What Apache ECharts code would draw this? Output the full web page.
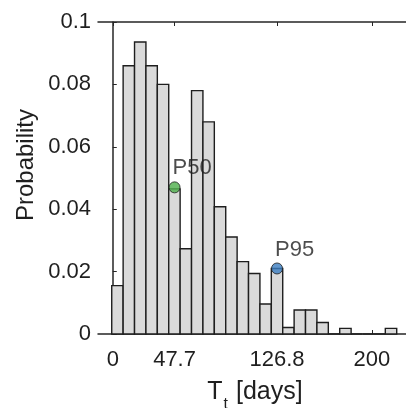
<!DOCTYPE html>
<html>
<head>
<meta charset="utf-8">
<script src="https://cdn.jsdelivr.net/npm/echarts@6/dist/echarts.min.js"></script>
<style>
html,body{margin:0;padding:0;background:#fff;}
#chart{width:406px;height:408px;}
</style>
</head>
<body>
<div id="chart"></div>
<script>
// Histogram bin edges (days)
var binEdges = [-0.8, 8.0, 16.8, 25.6, 34.4, 43.2, 52.0, 60.8, 69.6, 78.4, 87.2, 96.0, 104.8,
  113.6, 122.4, 131.2, 140.0, 148.8, 157.6, 166.4, 175.2, 184.0, 192.8, 201.6, 210.4, 219.2];
// Probability of each bin
var probs = [0.0155, 0.086, 0.0936, 0.086, 0.080, 0.0465, 0.0273, 0.078, 0.068, 0.0408,
  0.0311, 0.0232, 0.0194, 0.0096, 0.021, 0.0021, 0.0077, 0.0077, 0.0037, 0, 0.0018, 0, 0, 0, 0.0018];
// Percentile markers
var pointLabels = ['P50', 'P95'];
var pointX = [47.7, 126.8];
var pointY = [0.047, 0.021];
var pointColors = ['#4cae4a', '#3b7dc0'];
// Tick values
var xTicks = [0, 47.7, 126.8, 200];
var xTickLabels = ['0', '47.7', '126.8', '200'];
var yTicks = [0, 0.02, 0.04, 0.06, 0.08, 0.1];
var yTickLabels = ['0', '0.02', '0.04', '0.06', '0.08', '0.1'];

var TXT = '#1f1f1f';
var FONT = 'Liberation Sans, Arial, sans-serif';

var barData = probs.map(function (p, i) { return [binEdges[i], binEdges[i + 1], p]; });
var pts = pointX.map(function (x, i) {
  return { value: [x, pointY[i]], name: pointLabels[i], itemStyle: { color: pointColors[i] } };
});

var chart = echarts.init(document.getElementById('chart'), null, { renderer: 'canvas' });
var axisLineStyle = { color: '#262626', width: 1.5 };
chart.setOption({
  animation: false,
  backgroundColor: '#fff',
  grid: { left: 98, top: 22, width: 314, height: 312, containLabel: false, outerBoundsMode: 'none' },
  xAxis: [{
    type: 'value', min: -11.4, max: 231, position: 'bottom',
    axisLine: { show: true, onZero: false, lineStyle: axisLineStyle },
    axisTick: { show: true, inside: true, length: 4, lineStyle: { color: '#262626', width: 1 }, customValues: xTicks },
    axisLabel: { show: true, margin: 15, color: TXT, fontSize: 22, fontFamily: FONT,
      customValues: xTicks,
      formatter: function (v) { var i = xTicks.indexOf(v); return i >= 0 ? xTickLabels[i] : ''; } },
    splitLine: { show: false },
    name: '{m|T}{s|t}{m| [days]}',
    nameLocation: 'middle', nameGap: 46, nameMoveOverlap: false,
    nameTextStyle: {
      color: TXT, fontFamily: FONT, fontSize: 24,
      rich: {
        m: { fontSize: 25, color: TXT, fontFamily: FONT, lineHeight: 26, verticalAlign: 'top' },
        s: { fontSize: 16, color: TXT, fontFamily: FONT, lineHeight: 16, verticalAlign: 'top', padding: [17, 1, 0, 1] }
      }
    }
  }, {
    type: 'value', min: -11.4, max: 231, position: 'top',
    axisLine: { show: true, onZero: false, lineStyle: axisLineStyle },
    axisTick: { show: true, inside: true, length: 4, lineStyle: { color: '#262626', width: 1 }, customValues: xTicks },
    axisLabel: { show: false },
    splitLine: { show: false }
  }],
  yAxis: [{
    type: 'value', min: 0, max: 0.1,
    axisLine: { show: true, lineStyle: axisLineStyle },
    axisTick: { show: true, inside: true, length: 4, lineStyle: { color: '#262626', width: 1 }, customValues: yTicks },
    axisLabel: { show: true, margin: 7, color: TXT, fontSize: 22, fontFamily: FONT,
      customValues: yTicks,
      formatter: function (v) {
        for (var i = 0; i < yTicks.length; i++) { if (Math.abs(yTicks[i] - v) < 1e-9) return yTickLabels[i]; }
        return '';
      } },
    splitLine: { show: false },
    name: 'Probability', nameLocation: 'middle', nameGap: 60, nameMoveOverlap: false,
    nameTextStyle: { color: TXT, fontFamily: FONT, fontSize: 24, padding: [0, 0, 0, 26] }
  }],
  series: [{
    type: 'custom',
    xAxisIndex: 0, yAxisIndex: 0,
    encode: { x: [0, 1], y: 2 },
    data: barData,
    renderItem: function (params, api) {
      var p0 = api.coord([api.value(0), 0]);
      var p1 = api.coord([api.value(1), api.value(2)]);
      return {
        type: 'rect',
        shape: { x: p0[0], y: p1[1], width: p1[0] - p0[0], height: p0[1] - p1[1] },
        style: { fill: '#dadada', stroke: '#1e1e1e', lineWidth: 1.4 }
      };
    },
    z: 2
  }, {
    type: 'scatter',
    xAxisIndex: 0, yAxisIndex: 0,
    symbol: 'circle', symbolSize: 11,
    data: pts,
    itemStyle: { borderColor: '#1e1e1e', borderWidth: 1 },
    label: {
      show: true, formatter: '{b}', position: [4, -2], align: 'left', verticalAlign: 'bottom',
      color: TXT, fontSize: 22, fontFamily: FONT
    },
    z: 5
  }]
});
</script>
</body>
</html>
